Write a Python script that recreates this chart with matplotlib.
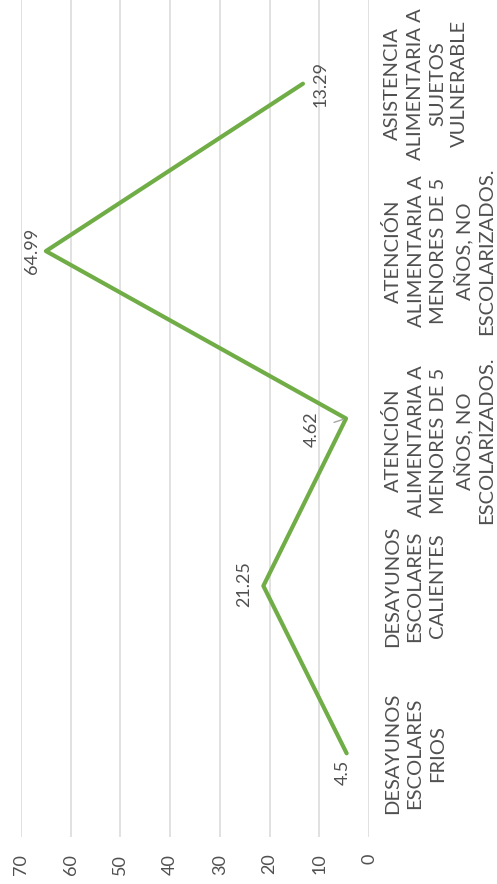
import matplotlib
matplotlib.use('Agg')
import matplotlib.pyplot as plt

categories = ['DESAYUNOS\nESCOLARES\nFRIOS',
              'DESAYUNOS\nESCOLARES\nCALIENTES',
              'ATENCIÓN\nALIMENTARIA A\nMENORES DE 5\nAÑOS, NO\nESCOLARIZADOS.',
              'ATENCIÓN\nALIMENTARIA A\nMENORES DE 5\nAÑOS, NO\nESCOLARIZADOS.',
              'ASISTENCIA\nALIMENTARIA A\nSUJETOS\nVULNERABLE']
values = [4.5, 21.25, 4.62, 64.99, 13.29]
value_ticks = [0, 10, 20, 30, 40, 50, 60, 70]
value_labels = ['4.5', '21.25', '4.62', '64.99', '13.29']

# label offsets (points) from each point, chart is drawn rotated 90 degrees
label_offsets = [(-3, -14), (-14, 1), (-25, -8), (-10, 0), (13, 0)]
# category label shifts (points), excel pushed the 3rd one down to avoid overlap
cat_shift = [0, 0, -16, 0, 0]

plt.rcParams['font.family'] = ['Lato', 'DejaVu Sans']
text_color = '#505050'
line_color = '#70AD47'

fig = plt.figure(figsize=(4.97, 8.84), dpi=100)
ax = fig.add_axes([21 / 497, 47 / 884, 348 / 497, 837 / 884])

pos = list(range(len(categories)))
ax.plot(values, pos, color=line_color, linewidth=3, solid_capstyle='round', zorder=3)

ax.set_xlim(70, 0)
ax.set_ylim(-0.5, len(categories) - 0.5)

ax.set_xticks(value_ticks)
ax.set_xticklabels([str(v) for v in value_ticks], rotation=90, fontsize=13,
                   color=text_color)
ax.tick_params(axis='x', length=0, pad=12)
ax.set_yticks([])

for i, cat in enumerate(categories):
    ax.annotate(cat, xy=(1, i), xycoords=('axes fraction', 'data'),
                xytext=(11, cat_shift[i]), textcoords='offset points',
                rotation=90, ha='left', va='center', multialignment='center',
                fontsize=14.5, linespacing=1.38, color=text_color)

ax.grid(axis='x', color='#d9d9d9', linewidth=1.1)
ax.set_axisbelow(True)
for s in ax.spines.values():
    s.set_visible(False)

for i, (v, lab) in enumerate(zip(values, value_labels)):
    dx, dy = label_offsets[i]
    if i == 2:
        ax.annotate(lab, xy=(v, i), xytext=(dx, dy), textcoords='offset points',
                    rotation=90, ha='center', va='center', fontsize=13,
                    color=text_color,
                    arrowprops=dict(arrowstyle='-', color='#a6a6a6', lw=1,
                                    shrinkA=9, shrinkB=2))
    else:
        ax.annotate(lab, xy=(v, i), xytext=(dx, dy), textcoords='offset points',
                    rotation=90, ha='center', va='center', fontsize=13,
                    color=text_color)

fig.savefig('out.png', dpi=100)
